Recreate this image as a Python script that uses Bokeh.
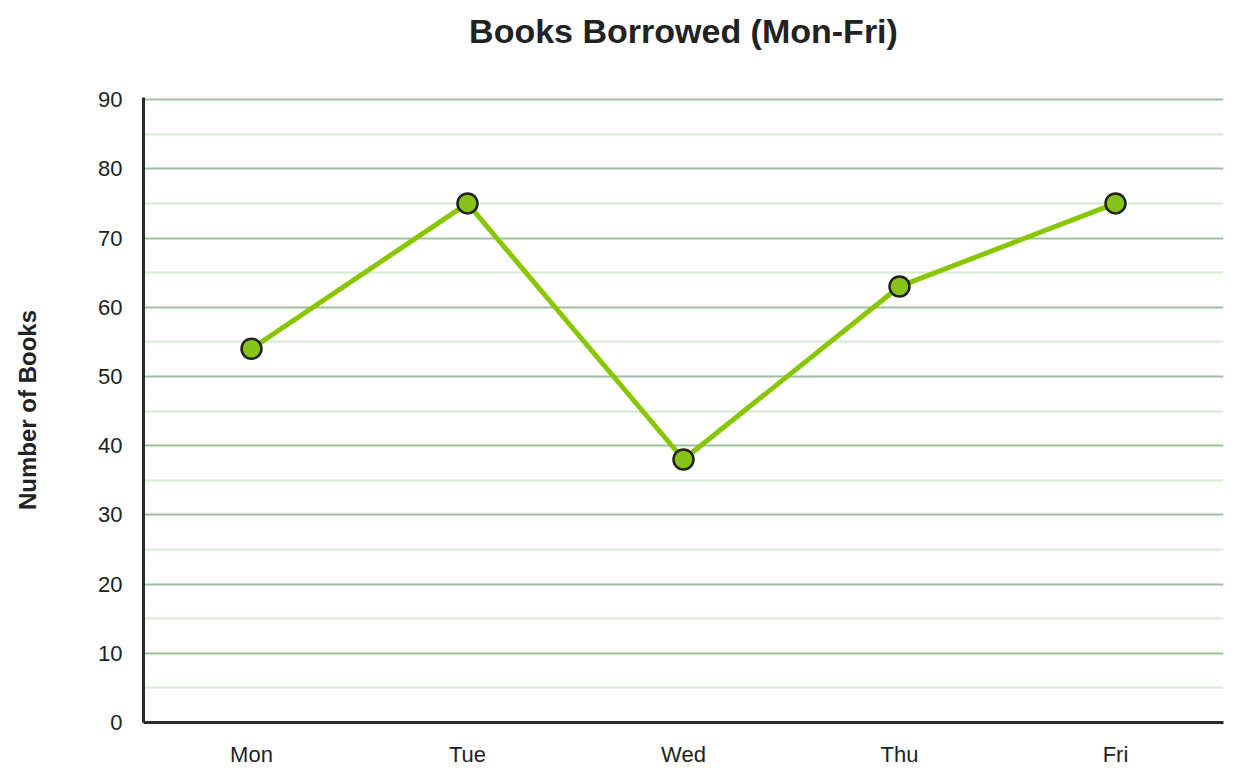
from bokeh.plotting import figure
from bokeh.models import FixedTicker, Range1d, Title
from bokeh.embed import file_html
from bokeh.resources import INLINE

days = ["Mon", "Tue", "Wed", "Thu", "Fri"]
books = [54, 75, 38, 63, 75]
y_ticks = [0, 10, 20, 30, 40, 50, 60, 70, 80, 90]
minor_ticks = [5, 15, 25, 35, 45, 55, 65, 75, 85]

W, H = 1235, 775
FL, FT, FB = 143, 97, 722  # frame left / top / bottom in page pixels
FONT = "Liberation Sans"

p = figure(x_range=days, y_range=Range1d(0, 90.3), width=W, height=H,
           output_backend="svg", toolbar_location=None,
           title="Books Borrowed (Mon-Fri)",
           min_border_left=FL, min_border_right=W - FL - 1080,
           min_border_top=FT, min_border_bottom=H - FB)
p.outline_line_color = None
p.background_fill_color = "white"
p.border_fill_color = "white"

# spacer between the frame and the main title
p.add_layout(Title(text=" ", text_font_size="1px", standoff=40), "above")

p.title.align = "center"
p.title.text_font = FONT
p.title.text_font_size = "34px"
p.title.text_font_style = "bold"
p.title.text_color = "#222222"
p.title.standoff = 10

p.xgrid.grid_line_color = None
p.ygrid.ticker = FixedTicker(ticks=y_ticks, minor_ticks=minor_ticks)
p.ygrid.grid_line_color = "#9dbf9d"
p.ygrid.grid_line_width = 2
p.ygrid.minor_grid_line_color = "#d6ead0"
p.ygrid.minor_grid_line_width = 2

p.yaxis.ticker = FixedTicker(ticks=y_ticks)
for ax in (p.xaxis[0], p.yaxis[0]):
    ax.axis_line_color = "#2b2b2b"
    ax.axis_line_width = 3
    ax.major_tick_line_color = None
    ax.minor_tick_line_color = None
    ax.major_label_text_font = FONT
    ax.major_label_text_font_size = "22px"
    ax.major_label_text_color = "#222222"
p.yaxis.major_label_standoff = 15
p.xaxis.major_label_standoff = 13

p.yaxis.axis_label = "Number of Books"
p.yaxis.axis_label_text_font = FONT
p.yaxis.axis_label_text_font_size = "24px"
p.yaxis.axis_label_text_font_style = "bold"
p.yaxis.axis_label_text_color = "#222222"
p.yaxis.axis_label_standoff = 54

p.line(days, books, line_color="#88c700", line_width=5)
p.scatter(days, books, size=20, fill_color="#88c418", line_color="#222222", line_width=2.5)

open("out.html", "w").write(file_html(p, INLINE))
